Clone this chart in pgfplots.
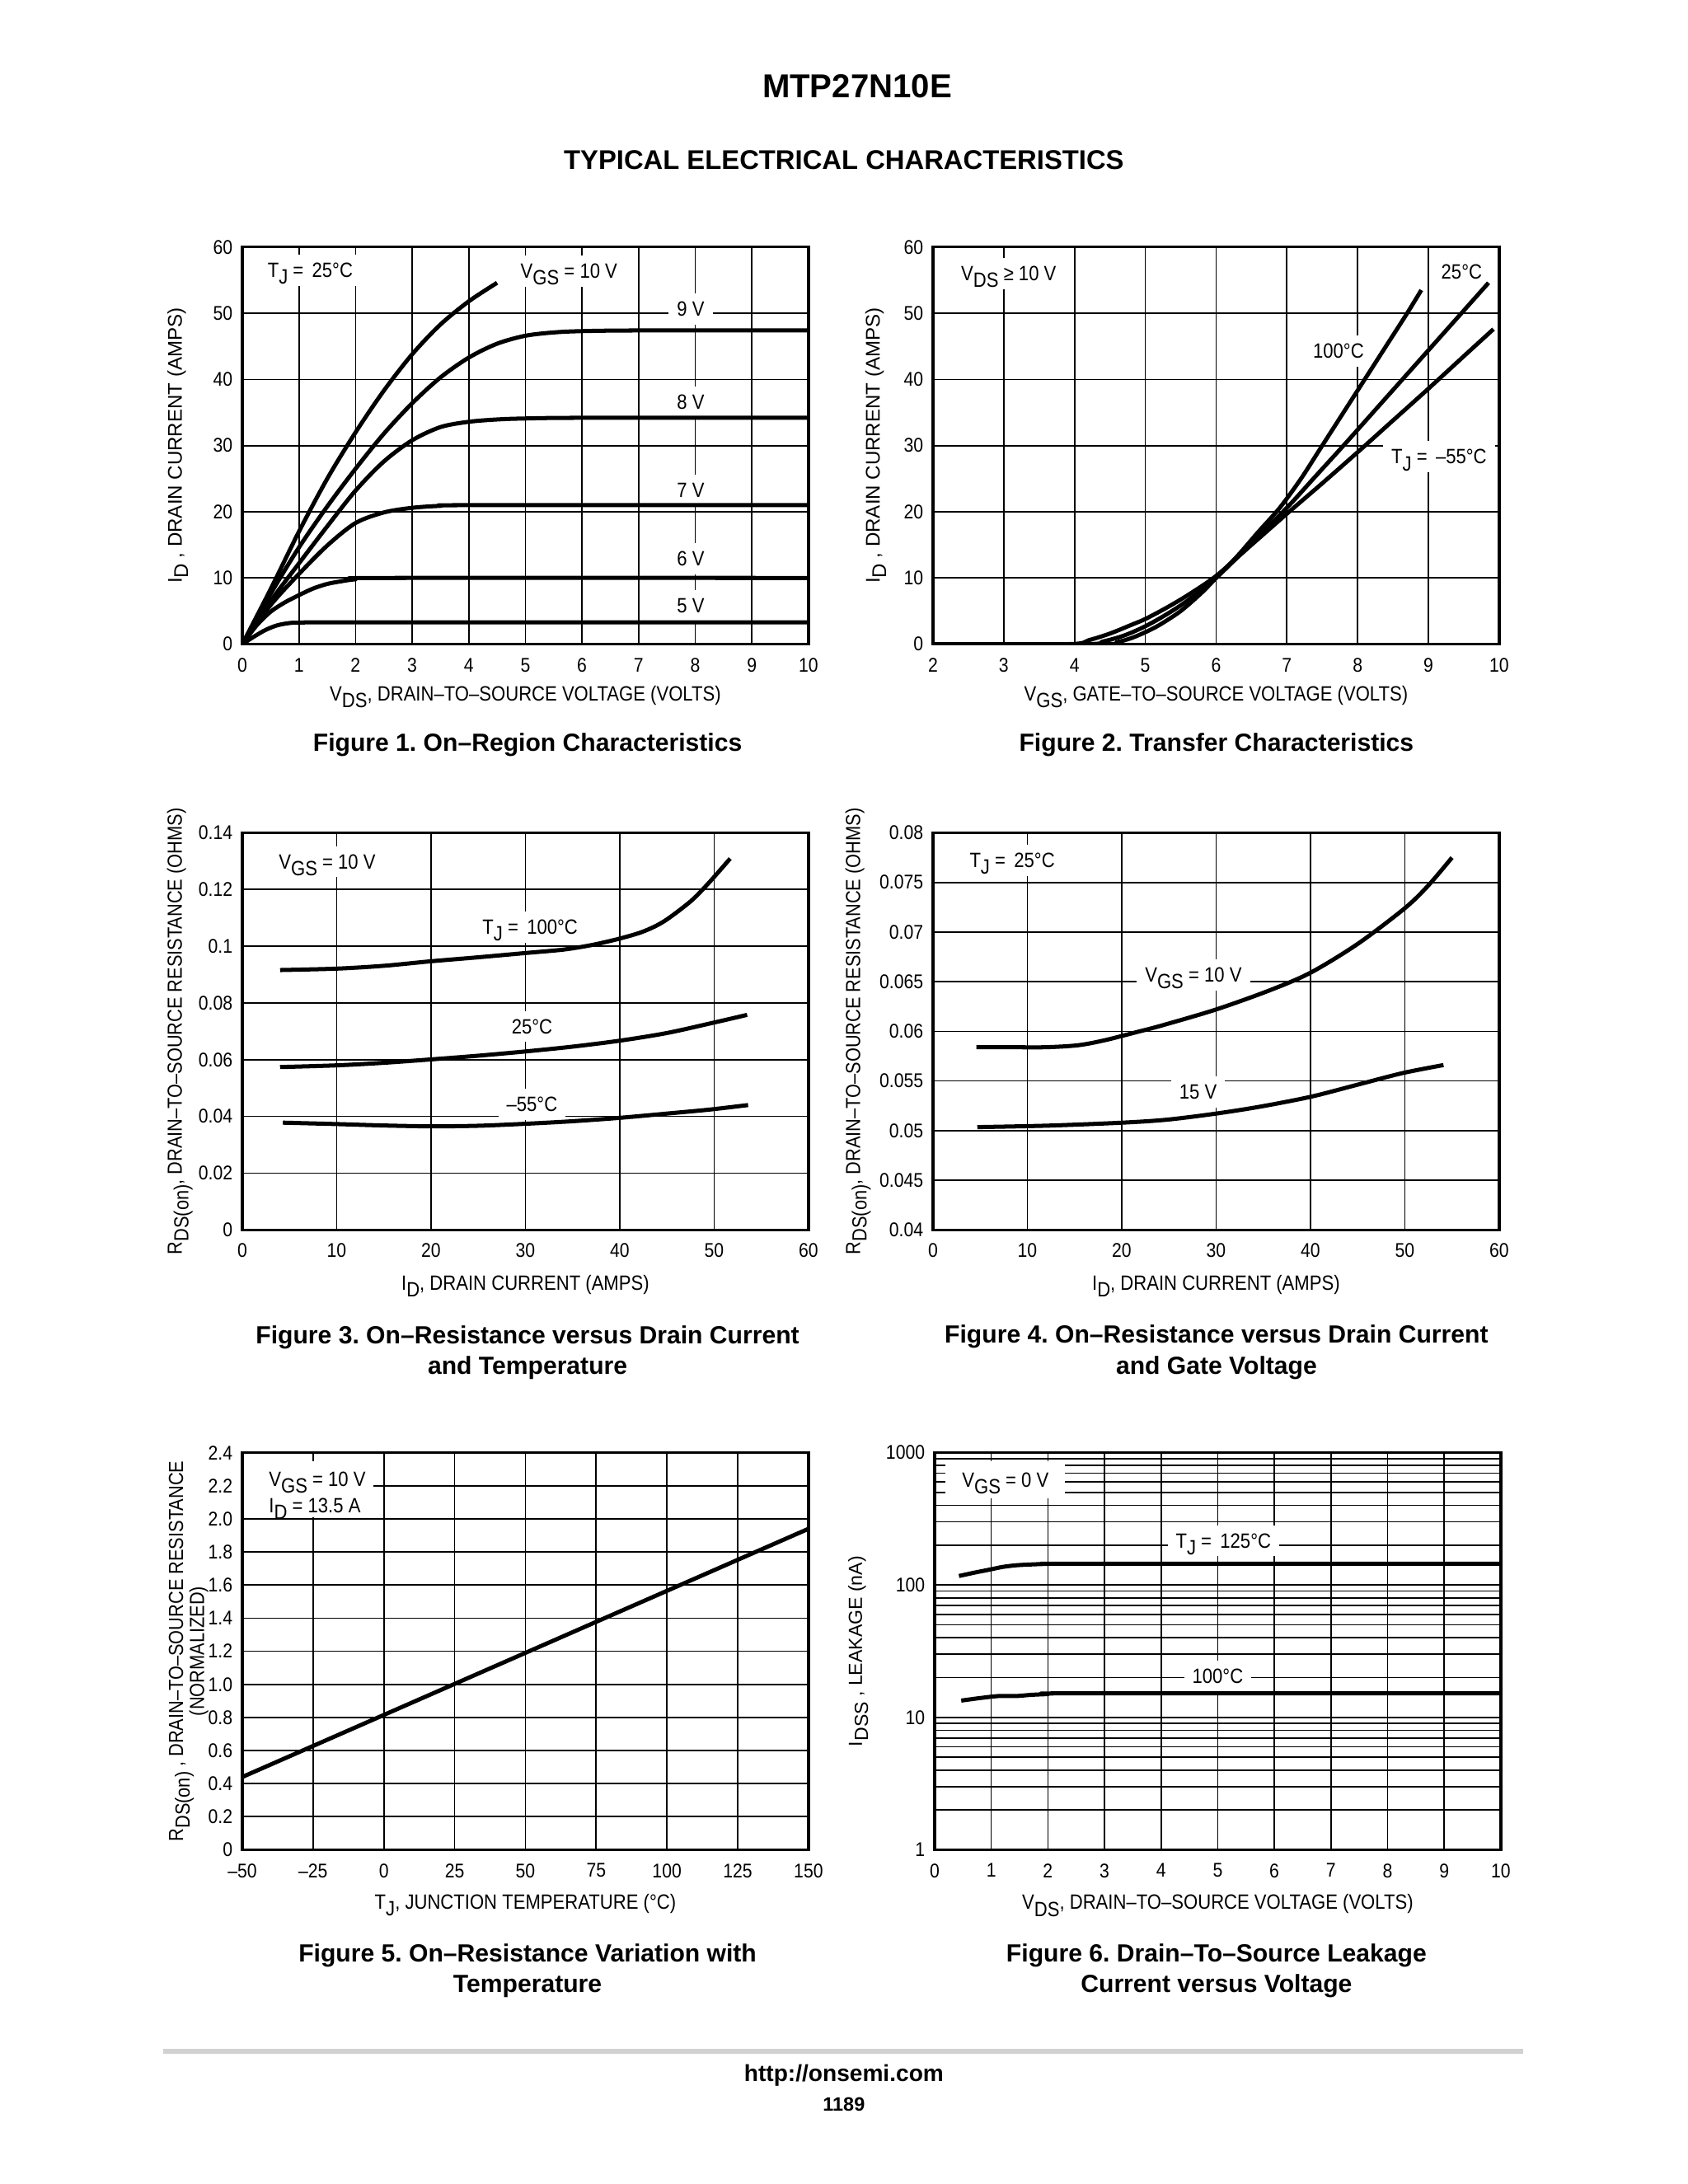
\documentclass[border=0pt]{standalone}
\usepackage{pgfplots}
\pgfplotsset{compat=1.18}
\usepackage{fontspec}
\setmainfont{Liberation Sans}
\newfontfamily\nar[FakeStretch=0.88]{Liberation Sans}
\frenchspacing

\newcommand{\sub}[1]{\raisebox{-0.32em}[0.6em][0pt]{#1}}
\newcommand{\tickf}{\nar\fontsize{7.2}{8}\selectfont}
\newcommand{\labf}{\nar\fontsize{7.5}{8}\selectfont}
\newcommand{\annf}{\nar\fontsize{7.5}{8}\selectfont}

\pgfplotsset{
  ds/.style={
    scale only axis, width=205.3pt, height=144pt, anchor=south west,
    axis line style={black, line width=1pt},
    grid=major,
    major grid style={black, line width=0.5pt},
    minor grid style={black, line width=0.5pt},
    tick style={draw=none},
    tick label style={font=\tickf},
    xticklabel style={yshift=-1.5pt},
    scaled ticks=false,
    /pgf/number format/assume math mode=true,
    every axis x label/.style={font=\labf, anchor=center},
    every axis y label/.style={font=\labf, anchor=center, rotate=90},
  },
  crv/.style={black, line width=1.5pt, smooth, tension=0.5, no markers, line join=round},
}
\tikzset{lab/.style={font=\annf, fill=white, inner sep=3pt}}

\begin{document}
\begin{tikzpicture}
\useasboundingbox (0,0) rectangle (612pt,792pt);
\fill[white] (0,0) rectangle (612pt,792pt);

% page titles
\node[font=\bfseries\fontsize{12}{14}\selectfont] at (310.8pt,760.6pt) {MTP27N10E};
\node[font=\bfseries\fontsize{9.8}{12}\selectfont] at (306pt,733.8pt) {TYPICAL ELECTRICAL CHARACTERISTICS};

% Figure 1
\begin{axis}[ds, at={(87.86pt,558.4pt)},
  xmin=0, xmax=10, ymin=0, ymax=60,
  xtick={0,...,10}, ytick={0,10,...,60},
  xlabel={V\sub{DS}, DRAIN–TO–SOURCE VOLTAGE (VOLTS)},
  ylabel={I\sub{D} , DRAIN CURRENT (AMPS)},
  xlabel style={at={(axis description cs:0.5,-0.129)}},
  ylabel style={at={(axis description cs:-0.116,0.5)}, font=\fontsize{7.2}{8}\selectfont}]
  \node[lab] at (axis cs:1.2,56.5) {T\sub{J} = \,25°C};
  \node[lab] at (axis cs:5.77,56.4) {V\sub{GS} = 10 V};
  \node[lab] at (axis cs:7.92,50.6) {9 V};
  \node[lab] at (axis cs:7.92,36.6) {8 V};
  \node[lab] at (axis cs:7.92,23.3) {7 V};
  \node[lab] at (axis cs:7.92,12.9) {6 V};
  \node[lab] at (axis cs:7.92,5.8) {5 V};
  \addplot[crv] coordinates {(0,0) (0.5,8.3) (1,17) (1.5,25) (2,32) (2.5,38.3) (3,43.8) (3.5,48.3) (4,51.8) (4.5,54.6)};
  \addplot[crv] coordinates {(0,0) (0.5,7.6) (1,14.6) (1.5,20.8) (2,26.5) (2.5,31.8) (3,36.4) (3.5,40.3) (4,43.3) (4.5,45.4) (5,46.6) (5.5,47.1) (6,47.3) (7,47.4) (10,47.4)};
  \addplot[crv] coordinates {(0,0) (0.5,6.5) (1,12.2) (1.5,17.8) (2,23.2) (2.5,27.6) (3,30.8) (3.5,32.8) (4,33.6) (4.5,33.95) (5,34.1) (6,34.2) (10,34.2)};
  \addplot[crv] coordinates {(0,0) (0.5,5.9) (1,10.6) (1.5,14.9) (2,18.3) (2.5,19.9) (3,20.6) (3.5,20.9) (4,21) (10,21)};
  \addplot[crv] coordinates {(0,0) (0.25,2.8) (0.5,4.9) (0.75,6.3) (1,7.4) (1.25,8.4) (1.5,9.1) (1.75,9.5) (2,9.8) (2.5,10) (10,10)};
  \addplot[crv] coordinates {(0,0) (0.2,1.1) (0.4,2.1) (0.6,2.8) (0.8,3.15) (1,3.25) (2,3.3) (10,3.3)};
\end{axis}

% Figure 2
\begin{axis}[ds, at={(338.3pt,558.4pt)},
  xmin=2, xmax=10, ymin=0, ymax=60,
  xtick={2,...,10}, ytick={0,10,...,60},
  xlabel={V\sub{GS}, GATE–TO–SOURCE VOLTAGE (VOLTS)},
  ylabel={I\sub{D} , DRAIN CURRENT (AMPS)},
  xlabel style={at={(axis description cs:0.5,-0.129)}},
  ylabel style={at={(axis description cs:-0.103,0.5)}, font=\fontsize{7.2}{8}\selectfont}]
  \node[lab] at (axis cs:3.07,56) {V\sub{DS} ≥ 10 V};
  \node[lab] at (axis cs:9.47,56.3) {25°C};
  \node[lab] at (axis cs:7.73,44.3) {100°C};
  \node[lab] at (axis cs:9.15,28.3) {T\sub{J} = \,–55°C};
  \addplot[crv] coordinates {(2,0) (4.4,0) (4.6,0.3) (4.8,0.9) (5,1.8) (5.2,2.9) (5.5,5) (5.8,7.8) (6,10) (6.3,13.3) (6.6,17) (6.9,20.6) (7.2,25) (7.5,30) (7.8,35) (8.1,40) (8.4,45) (8.7,50) (8.9,53.5)};
  \addplot[crv] coordinates {(2,0) (4.15,0) (4.4,0.4) (4.7,1.3) (5,2.7) (5.3,4.5) (5.6,6.6) (6,10) (6.5,15.3) (7,20.6) (7.4,25.3) (7.8,30) (8.3,36) (8.8,42) (9.3,48) (9.85,54.6)};
  \addplot[crv] coordinates {(2,0) (3.9,0) (4.2,0.6) (4.5,1.6) (4.8,2.9) (5,3.8) (5.3,5.5) (5.6,7.4) (6,10.3) (6.5,15) (7,19.7) (7.5,24.3) (8,29) (8.5,33.8) (9,38.6) (9.5,43.5) (9.92,47.6)};
\end{axis}

% Figure 3
\begin{axis}[ds, at={(87.86pt,346.0pt)},
  xmin=0, xmax=60, ymin=0, ymax=0.14,
  xtick={0,10,...,60}, ytick={0,0.02,0.04,0.06,0.08,0.1,0.12,0.14},
  yticklabels={0,0.02,0.04,0.06,0.08,0.1,0.12,0.14},
  xlabel={I\sub{D}, DRAIN CURRENT (AMPS)},
  ylabel={R\sub{DS(on)}, DRAIN–TO–SOURCE RESISTANCE (OHMS)},
  xlabel style={at={(axis description cs:0.5,-0.139)}},
  ylabel style={at={(axis description cs:-0.116,0.5)}, font=\nar\fontsize{7.4}{8}\selectfont}]
  \node[lab] at (axis cs:9,0.1298) {V\sub{GS} = 10 V};
  \node[lab] at (axis cs:30.5,0.1067) {T\sub{J} = \,100°C};
  \node[lab] at (axis cs:30.7,0.0717) {25°C};
  \node[lab] at (axis cs:30.7,0.0443) {–55°C};
  \addplot[crv] coordinates {(4,0.0916) (10,0.0921) (15,0.0931) (20,0.0947) (25,0.0961) (30,0.0976) (34,0.0988) (37,0.1004) (40,0.1027) (42.5,0.1052) (44.7,0.1088) (47.5,0.1158) (49.4,0.1222) (51.7,0.1309)};
  \addplot[crv] coordinates {(4,0.0574) (10,0.058) (15,0.0589) (20,0.0601) (25,0.0614) (30,0.0629) (35,0.0646) (40,0.0667) (45,0.0694) (50,0.0731) (53.5,0.0758)};
  \addplot[crv] coordinates {(4.3,0.0378) (10,0.0373) (15,0.0368) (20,0.0365) (25,0.0367) (30,0.0374) (35,0.0383) (40,0.0395) (45,0.041) (49.5,0.0424) (53.6,0.044)};
\end{axis}

% Figure 4
\begin{axis}[ds, at={(338.3pt,346.0pt)},
  xmin=0, xmax=60, ymin=0.04, ymax=0.08,
  xtick={0,10,...,60}, ytick={0.04,0.045,0.05,0.055,0.06,0.065,0.07,0.075,0.08},
  yticklabels={0.04,0.045,0.05,0.055,0.06,0.065,0.07,0.075,0.08},
  xlabel={I\sub{D}, DRAIN CURRENT (AMPS)},
  ylabel={R\sub{DS(on)}, DRAIN–TO–SOURCE RESISTANCE (OHMS)},
  xlabel style={at={(axis description cs:0.5,-0.139)}},
  ylabel style={at={(axis description cs:-0.138,0.5)}, font=\nar\fontsize{7.4}{8}\selectfont}]
  \node[lab] at (axis cs:8.4,0.0772) {T\sub{J} = \,25°C};
  \node[lab] at (axis cs:27.6,0.0657) {V\sub{GS} = 10 V};
  \node[lab] at (axis cs:28.1,0.0539) {15 V};
  \addplot[crv] coordinates {(4.6,0.0584) (8,0.0584) (12,0.0584) (15.4,0.0586) (18.2,0.0591) (21.5,0.0599) (24.3,0.0606) (30,0.0622) (35.6,0.0641) (40,0.0659) (45,0.0688) (50,0.0724) (52.5,0.0747) (55,0.0775)};
  \addplot[crv] coordinates {(4.7,0.05035) (12.2,0.0505) (20.1,0.0508) (24.8,0.0511) (29.9,0.0517) (34.6,0.0524) (40,0.0534) (44.9,0.0546) (49.8,0.0558) (54.1,0.0566)};
\end{axis}

% Figure 5
\begin{axis}[ds, at={(87.86pt,121.2pt)},
  xmin=-50, xmax=150, ymin=0, ymax=2.4,
  xtick={-50,-25,...,150}, xticklabels={–50,–25,0,25,50,75,100,125,150},
  ytick={0,0.2,...,2.4},
  yticklabels={0,0.2,0.4,0.6,0.8,1.0,1.2,1.4,1.6,1.8,2.0,2.2,2.4},
  xlabel={T\sub{J}, JUNCTION TEMPERATURE (°C)},
  ylabel={R\sub{DS(on)} , DRAIN–TO–SOURCE RESISTANCE\\(NORMALIZED)},
  xlabel style={at={(axis description cs:0.5,-0.137)}},
  ylabel style={at={(axis description cs:-0.095,0.5)}, align=center, font=\nar\fontsize{7.4}{7.6}\selectfont}]
  \fill[white] (axis cs:-49.4,2.01) rectangle (axis cs:-3.7,2.35);
  \node[font=\annf, anchor=west] at (axis cs:-44,2.24) {V\sub{GS} = 10 V};
  \node[font=\annf, anchor=west] at (axis cs:-44,2.08) {I\sub{D} = 13.5 A};
  \addplot[crv] coordinates {(-50,0.44) (150,1.94)};
\end{axis}

% Figure 6
\begin{axis}[ds, at={(338.9pt,121.2pt)},
  xmin=0, xmax=10, ymin=1, ymax=1000, ymode=log, grid=both,
  xtick={0,...,10}, ytick={1,10,100,1000}, yticklabels={1,10,100,1000},
  xlabel={V\sub{DS}, DRAIN–TO–SOURCE VOLTAGE (VOLTS)},
  ylabel={I\sub{DSS} , LEAKAGE (nA)},
  xlabel style={at={(axis description cs:0.5,-0.137)}},
  ylabel style={at={(axis description cs:-0.137,0.5)}, font=\fontsize{6.9}{8}\selectfont}]
  \node[lab, inner xsep=6pt, inner ysep=4pt] at (axis cs:1.25,624) {V\sub{GS} = 0 V};
  \node[lab] at (axis cs:5.1,216) {T\sub{J} = \,125°C};
  \node[lab] at (axis cs:5.0,20.6) {100°C};
  \addplot[crv] coordinates {(0.43,117) (0.7,124) (0.98,131) (1.2,137) (1.44,141) (1.7,143) (2,144.5) (2.5,145) (10,145)};
  \addplot[crv] coordinates {(0.47,13.4) (0.8,14.0) (1.13,14.5) (1.44,14.5) (1.7,14.8) (2,15.0) (2.5,15.2) (10,15.2)};
\end{axis}

% captions
\begin{scope}[every node/.style={font=\bfseries\fontsize{9}{11.1}\selectfont, align=center}]
  \node at (191.3pt,521.8pt) {Figure 1. On–Region Characteristics};
  \node at (441.1pt,521.8pt) {Figure 2. Transfer Characteristics};
  \node at (191.3pt,301.6pt) {Figure 3. On–Resistance versus Drain Current\\and Temperature};
  \node at (441.1pt,301.6pt) {Figure 4. On–Resistance versus Drain Current\\and Gate Voltage};
  \node at (191.3pt,77.4pt) {Figure 5. On–Resistance Variation with\\Temperature};
  \node at (441.1pt,77.4pt) {Figure 6. Drain–To–Source Leakage\\Current versus Voltage};
\end{scope}

% footer
\draw[black!18, line width=1.6pt] (59.1pt,48.1pt) -- (552.4pt,48.1pt);
\node[font=\bfseries\fontsize{8.4}{10}\selectfont] at (306pt,39.4pt) {http://onsemi.com};
\node[font=\bfseries\fontsize{7}{8}\selectfont] at (306pt,29pt) {1189};
\end{tikzpicture}
\end{document}
